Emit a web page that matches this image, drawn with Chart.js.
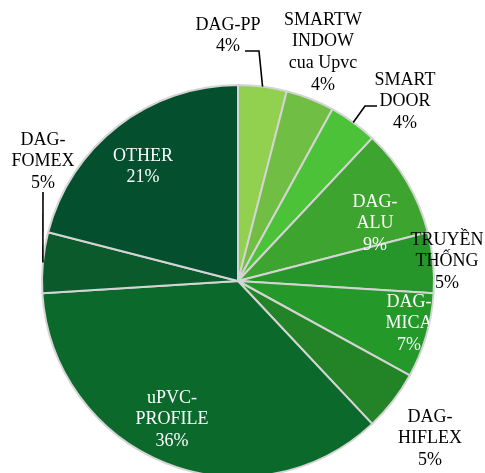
<!DOCTYPE html>
<html>
<head>
<meta charset="utf-8">
<script src="https://cdn.jsdelivr.net/npm/chart.js@4/dist/chart.umd.min.js"></script>
<style>
  html, body { margin: 0; padding: 0; background: #fff; overflow: hidden; }
  #wrap { position: relative; width: 485px; height: 473px; }
</style>
</head>
<body>
<div id="wrap"><canvas id="pie"></canvas></div>
<script>
/* ── Data ──────────────────────────────────────────────────────────────── */
const CATEGORIES = [
  ['DAG-PP'],
  ['SMARTW', 'INDOW', 'cua Upvc'],
  ['SMART', 'DOOR'],
  ['DAG-', 'ALU'],
  ['TRUYỀN', 'THỐNG'],
  ['DAG-', 'MICA'],
  ['DAG-', 'HIFLEX'],
  ['uPVC-', 'PROFILE'],
  ['DAG-', 'FOMEX'],
  ['OTHER'],
];
const SHARES = [4, 4, 4, 9, 5, 7, 5, 36, 5, 21];

/* ── Styling ───────────────────────────────────────────────────────────── */
const COLORS = [
  '#92d050', '#70be44', '#4cc238', '#3da42f', '#26962a',
  '#24992a', '#228426', '#0c692c', '#0a5a2c', '#034f2e',
];

// label placement: x centre, y of first line, text colour, leader elbow points
const LABEL_LAYOUT = [
  { x: 228, y: 25,  color: '#000', leader: [[259, 51], [245, 51]] },
  { x: 323, y: 20,  color: '#000' },
  { x: 405, y: 80,  color: '#000', leader: [[365, 106], [377, 106]] },
  { x: 375, y: 202, color: '#fff' },
  { x: 447, y: 240, color: '#000' },
  { x: 409, y: 302, color: '#fff' },
  { x: 430, y: 417, color: '#000' },
  { x: 172, y: 398, color: '#fff' },
  { x: 43,  y: 140, color: '#000', leader: [[43, 192]] },
  { x: 143, y: 156, color: '#fff' },
];
const LINE_H = 21.6;
const FONT   = "18px 'Liberation Serif', 'Times New Roman', serif";

/* ── Label plugin ──────────────────────────────────────────────────────── */
const pieLabels = {
  id: 'pieLabels',
  afterDatasetsDraw(chart) {
    const ctx  = chart.ctx;
    const arcs = chart.getDatasetMeta(0).data;
    ctx.save();
    ctx.font = FONT;
    ctx.textAlign = 'center';
    ctx.textBaseline = 'middle';

    arcs.forEach((arc, i) => {
      const lay   = LABEL_LAYOUT[i];
      const lines = CATEGORIES[i].concat([SHARES[i] + '%']);

      // leader line from the slice edge
      if (lay.leader) {
        const mid = (arc.startAngle + arc.endAngle) / 2;
        ctx.beginPath();
        ctx.moveTo(arc.x + Math.cos(mid) * arc.outerRadius,
                   arc.y + Math.sin(mid) * arc.outerRadius);
        lay.leader.forEach(p => ctx.lineTo(p[0], p[1]));
        ctx.strokeStyle = '#000';
        ctx.lineWidth = 1.6;
        ctx.stroke();
      }

      ctx.save();
      if (lay.color === '#fff') {
        // inside labels are cut by the pie outline
        ctx.beginPath();
        ctx.arc(arc.x, arc.y, arc.outerRadius, 0, Math.PI * 2);
        ctx.clip();
      }
      ctx.fillStyle = lay.color;
      lines.forEach((t, k) => ctx.fillText(t, lay.x, lay.y + k * LINE_H));
      ctx.restore();
    });
    ctx.restore();
  },
};

/* ── Chart ─────────────────────────────────────────────────────────────── */
new Chart(document.getElementById('pie'), {
  type: 'pie',
  data: {
    labels: CATEGORIES,
    datasets: [{
      data:            SHARES,
      backgroundColor: COLORS,
      borderColor:     '#d4d4d4',
      borderWidth:     2,
      radius:          196,
      clip:            false,
    }],
  },
  options: {
    responsive:          true,
    maintainAspectRatio: false,
    animation:           false,
    layout: { padding: { left: 42, right: 51, top: 89, bottom: 0 } },
    plugins: {
      legend:  { display: false },
      tooltip: { enabled: false },
    },
  },
  plugins: [pieLabels],
});
</script>
</body>
</html>
